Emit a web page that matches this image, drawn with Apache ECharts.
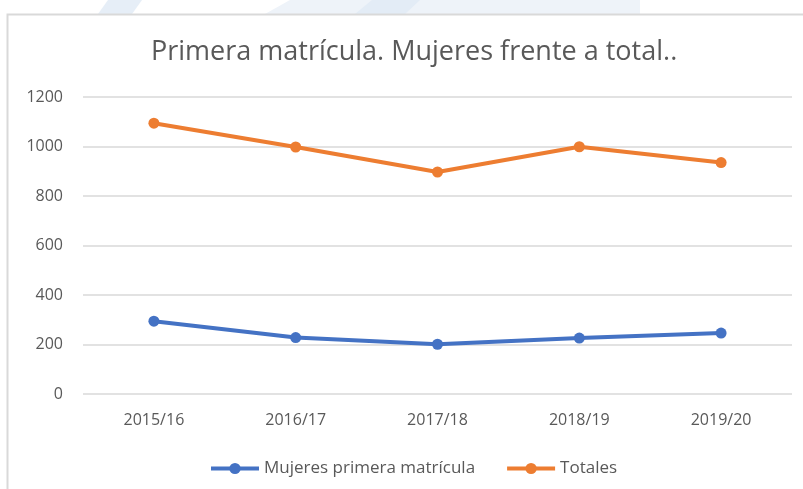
<!DOCTYPE html>
<html>
<head>
<meta charset="utf-8">
<script src="https://cdn.jsdelivr.net/npm/echarts@6/dist/echarts.min.js"></script>
<style>
  html, body { margin: 0; padding: 0; background: #fff; }
  #chart { width: 803px; height: 489px; }
</style>
</head>
<body>
<div id="chart"></div>
<script>
var cursos = ['2015/16', '2016/17', '2017/18', '2018/19', '2019/20']
var mujeres = [294, 228, 201, 226, 246]
var totales = [1094, 998, 897, 999, 935]
var yTicks = { min: 0, max: 1200, step: 200 }

var textColor = '#595959'
var fontFam = '"Open Sans", "Liberation Sans", sans-serif'

var myChart = echarts.init(document.getElementById('chart'))

var option = {
    backgroundColor: '#fff',
    animation: false,
    // marco del gráfico y manchas del fondo
    graphic: [
        { type: 'polygon', silent: true, shape: { points: [[108, 0], [142, 0], [132, 14], [98, 14]] }, style: { fill: '#e6eef7' } },
        { type: 'polygon', silent: true, shape: { points: [[290, 0], [640, 0], [640, 14], [265, 14]] }, style: { fill: '#eef3f9' } },
        { type: 'polygon', silent: true, shape: { points: [[372, 0], [420, 0], [405, 14], [355, 14]] }, style: { fill: '#e3ecf6' } },
        {
            type: 'rect', silent: true,
            shape: { x: 7.5, y: 14.5, width: 820, height: 500 },
            style: { fill: 'transparent', stroke: '#d9d9d9', lineWidth: 2 }
        }
    ],
    title: {
        text: 'Primera matrícula. Mujeres frente a total..',
        left: 146,
        top: 34,
        textStyle: { color: textColor, fontSize: 27, fontWeight: 'normal', fontFamily: fontFam }
    },
    legend: {
        left: 204,
        top: 455,
        itemWidth: 48,
        itemHeight: 14,
        itemGap: 30,
        lineStyle: { width: 4 },
        textStyle: { color: textColor, fontSize: 17, fontFamily: fontFam },
        data: ['Mujeres primera matrícula', 'Totales']
    },
    grid: { left: 83, right: 11, top: 97, bottom: 95 },
    xAxis: {
        type: 'category',
        data: cursos,
        axisLine: { show: false },
        axisTick: { show: false },
        axisLabel: { color: textColor, fontSize: 16, margin: 18, fontFamily: fontFam }
    },
    yAxis: {
        type: 'value',
        min: yTicks.min,
        max: yTicks.max,
        interval: yTicks.step,
        axisLine: { show: false },
        axisTick: { show: false },
        axisLabel: {
            color: textColor, fontSize: 16, margin: 20, fontFamily: fontFam,
            formatter: function (v) { return String(v) }
        },
        splitLine: { lineStyle: { color: '#d9d9d9', width: 1.5 } }
    },
    series: [
        {
            name: 'Mujeres primera matrícula',
            type: 'line',
            data: mujeres,
            symbol: 'circle',
            symbolSize: 11,
            color: '#4472c4',
            lineStyle: { width: 4, color: '#4472c4' }
        },
        {
            name: 'Totales',
            type: 'line',
            data: totales,
            symbol: 'circle',
            symbolSize: 11,
            color: '#ed7d31',
            lineStyle: { width: 4, color: '#ed7d31' }
        }
    ]
}
myChart.setOption(option)
</script>
</body>
</html>
